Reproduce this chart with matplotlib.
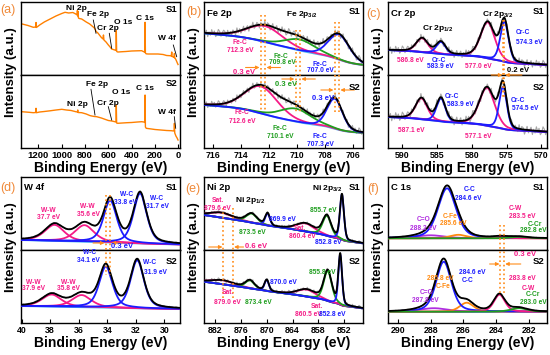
import numpy as np
import matplotlib.pyplot as plt
from matplotlib.transforms import blended_transform_factory as blend

plt.rcParams['font.family'] = ['Liberation Sans', 'DejaVu Sans']
plt.rcParams['font.weight'] = 'bold'
plt.rcParams['mathtext.fontset'] = 'custom'
plt.rcParams['mathtext.rm'] = 'Liberation Sans:bold'
plt.rcParams['mathtext.bf'] = 'Liberation Sans:bold'

W, H = 550, 355
PINK = '#f51a86'
BLUE = '#1c1cff'
GREEN = '#1f9e1f'
BGC = '#4cb6f2'
ORANGE = '#ff8c1a'
SURV = '#ff8000'
PURPLE = '#b02ee0'
CFE = '#ff8a10'
GREY = '#a6a6a6'

# ---------------- data ----------------
# (a) survey spectra: binding energy (eV) and intensity
surv_e1 = [1340, 1290, 1244, 1224, 1221, 1218, 1190, 1150, 1100, 1050, 1000, 972, 940, 905,
           880, 868, 866, 863, 860, 857, 850, 829, 790, 760, 743, 720, 705, 690, 660, 646,
           642, 638, 620, 600, 585, 572, 545, 534, 532, 529, 525, 517, 480, 450, 400, 350,
           314, 295, 287, 285, 282, 276, 260, 220, 174, 130, 100, 70, 60, 56, 53, 40, 36,
           33, 30, 25, 15, 8, 2]
surv_h1 = [51, 49.5, 47.7, 48, 52.5, 47.5, 50, 53, 56, 59, 61.5, 62.7, 62, 62.5,
           61, 60, 64.5, 59, 63.5, 57, 56.5, 56, 53, 51, 49.3, 47, 43.5, 42, 37.5, 36,
           40, 35, 33, 30, 28, 26, 25, 24.5, 44.3, 24, 23.2, 23, 23.3, 23.5, 24, 24.2,
           24.3, 23.2, 22.8, 52.7, 22, 21.2, 21, 21, 21, 20.5, 19.5, 19.3, 19, 23, 18.5, 18, 17.5,
           21.5, 16.8, 16.5, 14, 12, 10.5]
surv_e2 = [1345, 1290, 1244, 1224, 1221, 1218, 1190, 1150, 1100, 1050, 1000, 960, 920, 880,
           866, 863, 860, 829, 790, 760, 743, 720, 700, 660, 629, 600, 570, 545, 534, 532,
           529, 520, 480, 440, 400, 350, 314, 295, 287, 285, 282, 275, 230, 200, 150, 100,
           60, 40, 35, 33, 30, 20, 10, 2]
surv_h2 = [36.3, 35.8, 35.3, 35.5, 39.7, 35.3, 36, 36.5, 37.2, 38, 38.7, 38, 37.5, 36.3,
           36, 38, 35.5, 35.3, 34, 32.5, 32, 31.5, 31.3, 30, 28.7, 27.5, 27, 26.3, 26, 43,
           25, 24.7, 25, 25.3, 25.5, 26, 26.3, 26, 25.5, 53, 21, 19.7, 19, 18.5, 18, 17.5,
           17.3, 17, 18, 24.7, 15, 12, 10, 8]

# (b) Fe 2p fitted components (center eV, height, FWHM eV)
fe_c1 = [712.3, 709.8, 707.0]
fe_h1 = [16, 11, 25]
fe_w1 = [3.0, 2.6, 1.8]
fe_c2 = [712.6, 710.1, 707.3]
fe_h2 = [27, 13, 30]
fe_w2 = [2.8, 2.6, 1.3]
fe_bg1 = (41.7, 10)
fe_bg2 = (43, 15)

# (c) Cr 2p
cr_c1 = [587.1, 584.4, 577.7, 575.3]
cr_h1 = [14, 12, 36, 40]
cr_w1 = [2.0, 1.6, 2.4, 1.4]
cr_c2 = [587.2, 584.4, 577.8, 575.5]
cr_h2 = [21, 23, 38, 42]
cr_w2 = [2.0, 1.5, 2.6, 1.3]
cr_bg1 = (25, 10)
cr_bg2 = (31, 16)

# (d) W 4f
w_c1 = [37.7, 35.6, 33.8, 31.7]
w_h1 = [16, 16.5, 42, 50]
w_w1 = [1.6, 1.6, 1.1, 1.1]
w_c2 = [37.9, 35.8, 34.1, 31.9]
w_h2 = [12, 12, 41, 48]
w_w2 = [1.6, 1.6, 1.1, 1.1]
w_bg1 = (10, 5.5)
w_bg2 = (17, 14)

# (e) Ni 2p
ni_c1 = [880.5, 873.5, 869.8, 861.0, 856.0, 852.5]
ni_h1 = [5, 9, 12, 8, 20, 45]
ni_w1 = [6, 3, 1.3, 5, 2.3, 1.1]
ni_c2 = [880.2, 873.9, 870.0, 860.7, 855.8, 852.9]
ni_h2 = [4, 8, 11, 7, 30, 50]
ni_w2 = [6, 2.5, 1.2, 5, 2.2, 1.0]
ni_bg1 = (35, 6.7)
ni_bg2 = (41.3, 14.7)

# (f) C 1s
c_c1 = [288.0, 286.3, 287.0, 283.7, 282.6]
c_h1 = [3, 3.5, 50, 1.5, 1.5]
c_w1 = [2.0, 1.2, 1.3, 1.0, 1.2]
c_c2 = [287.8, 285.8, 287.2, 283.8, 282.6]
c_h2 = [3.5, 9, 50, 17, 3.5]
c_w2 = [2.0, 1.0, 1.1, 0.8, 1.2]
c_bg1 = (11.7, 11.7)
c_bg2 = (11.3, 11.3)

# fixed hand-typed scatter used for the raw (grey) traces
NOISE = [0.2, -0.7, 0.5, 1.0, -0.3, -0.8, 0.6, -0.1, 0.9, -0.5, 0.3, -0.9, 0.7, 0.1,
         -0.6, 0.8, -0.2, -1.0, 0.4, 0.6, -0.4, 0.9, -0.7, 0.0, 0.5, -0.8, 0.3, 0.7,
         -0.3, -0.6, 1.0, -0.2, 0.4, -0.9, 0.6, 0.2, -0.5, 0.8, -0.1, -0.7, 0.5, -0.4,
         0.9, -0.8, 0.1, 0.6, -0.6, 0.3, -0.2, 0.7, -0.9, 0.4, 0.8]

fig = plt.figure(figsize=(5.5, 3.55), dpi=100)


def fy(py):
    return 1 - py / H


def panel(l, t, xlim, ticks, tfs=6.3):
    axs = []
    for k in range(2):
        ax = fig.add_axes([l / W, fy(t + 73 * (k + 1)), 159 / W, 73 / H])
        ax.set_xlim(*xlim)
        ax.set_ylim(0, 73)
        ax.set_yticks([])
        for s in ax.spines.values():
            s.set_linewidth(1.0)
        axs.append(ax)
    axs[0].set_xticks([])
    axs[1].set_xticks(ticks)
    axs[1].tick_params(axis='x', direction='in', length=3, width=0.8, labelsize=tfs, pad=2)
    axs[1].set_xlabel('Binding Energy (eV)', fontsize=10, fontweight='bold', labelpad=1)
    fig.text((l - 10) / W, fy(t + 70), 'Intensity (a.u.)', rotation=90, fontsize=9.5,
             fontweight='bold', ha='center', va='center')
    return axs


def pv(x, c, a, w, eta):
    r = ((x - c) / w) ** 2
    return a * (eta / (1 + 4 * r) + (1 - eta) * np.exp(-4 * np.log(2) * r))


def spectrum(ax, xlim, centers, heights, fwhms, colors, bg_ends, k, eta, noise):
    x = np.linspace(min(xlim), max(xlim), 600)
    comps = [pv(x, c, a, w, eta) for c, a, w in zip(centers, heights, fwhms)]
    tot = np.sum(comps, axis=0)
    cum = np.cumsum(tot) / np.sum(tot)
    lin = (x - x[0]) / (x[-1] - x[0])
    bg = bg_ends[1] + (bg_ends[0] - bg_ends[1]) * (k * cum + (1 - k) * lin)
    env = bg + tot
    xr = x[::5]
    ax.plot(xr, env[::5] + noise * np.resize(NOISE, len(xr)), color=GREY, lw=0.8, zorder=1)
    ax.plot(x, bg, color=BGC, lw=1.4, zorder=2)
    for comp, col in zip(comps, colors):
        ax.plot(x, bg + comp, color=col, lw=1.3, zorder=3)
    ax.plot(x, env, color='k', lw=1.3, zorder=4)


def lab(px, py, s, c='k', fs=4.8, ha='center'):
    fig.text(px / W, fy(py), s, color=c, fontsize=fs, ha=ha, va='center', fontweight='bold')


def vmark(ax, xs, y0, y1):
    tr = blend(ax.transData, fig.transFigure)
    for xv in xs:
        ax.plot([xv, xv], [fy(y0), fy(y1)], transform=tr, color=ORANGE, ls=':', lw=1.2,
                clip_on=False, zorder=6)


def shift_arrow(ax, x0, x1, py):
    tr = blend(ax.transData, fig.transFigure)
    ax.annotate('', xy=(x1, fy(py)), xytext=(x0, fy(py)), xycoords=tr, textcoords=tr,
                annotation_clip=False,
                arrowprops=dict(arrowstyle='-|>', color=ORANGE, lw=0.8, mutation_scale=5,
                                shrinkA=0, shrinkB=0))


def leader(p0, p1):
    fig.add_artist(plt.Line2D([p0[0] / W, p1[0] / W], [fy(p0[1]), fy(p1[1])], color='k', lw=0.6))


def tag(l, t, head, plabel, plx, ply):
    lab(l + 3, t + 11, head, fs=6.8, ha='left')
    lab(l + 156, t + 10, 'S1', fs=6.8, ha='right')
    lab(l + 156, t + 85, 'S2', fs=6.8, ha='right')
    fig.text(plx / W, fy(ply), plabel, color='#f08a3a', fontsize=9, fontweight='normal',
             ha='center', va='center')


# ---------------- (a) survey ----------------
a1, a2 = panel(21, 2, (1350, -15), [1200, 1000, 800, 600, 400, 200, 0], tfs=6.8)
a1.plot(surv_e1, surv_h1, color=SURV, lw=1.0)
a2.plot(surv_e2, surv_h2, color=SURV, lw=1.0)
lab(172, 10, 'S1', fs=6.8)
lab(172, 84, 'S2', fs=6.8)
fig.text(7.5 / W, fy(10), '(a)', color='#f08a3a', fontsize=9, ha='center', va='center',
         fontweight='normal')
for s, px, py in [('Ni 2p', 76, 8), ('Fe 2p', 98, 15), ('Cr 2p', 108, 29), ('O 1s', 123, 23),
                  ('C 1s', 145, 19), ('W 4f', 167, 39), ('Fe 2p', 97, 84), ('Ni 2p', 77, 104),
                  ('Cr 2p', 108, 103), ('O 1s', 121, 93), ('C 1s', 145, 89), ('W 4f', 167, 113)]:
    lab(px, py, s, fs=6)
leader((93.3, 20), (96, 33.3))
leader((109.3, 33.3), (111.7, 48.3))
leader((173.3, 45), (176.7, 56.7))
leader((91, 89.3), (95, 115))
leader((108.3, 106.7), (111.7, 120))
leader((174.3, 116.7), (175.7, 128.3))

# ---------------- (b) Fe 2p ----------------
b1, b2 = panel(204, 2, (716.68, 705.28), [716, 714, 712, 710, 708, 706])
fe_col = [PINK, GREEN, BLUE]
spectrum(b1, (716.68, 705.28), fe_c1, fe_h1, fe_w1, fe_col, fe_bg1, 0.6, 0.2, 4)
spectrum(b2, (716.68, 705.28), fe_c2, fe_h2, fe_w2, fe_col, fe_bg2, 0.6, 0.2, 3.5)
tag(204, 2, 'Fe 2p', '(b)', 193.5, 12.5)
lab(302, 15, r'Fe 2p$_{3/2}$', fs=6)
vmark(b2, [fe_c2[0], fe_c1[0]], 15, 112)
vmark(b2, [fe_c2[1], fe_c1[1]], 30, 112)
vmark(b2, [fe_c2[2], fe_c1[2]], 22, 113)
shift_arrow(b2, 713.7, 712.7, 67.5)
shift_arrow(b2, 711.2, 712.2, 67.5)
shift_arrow(b2, 711.1, 710.2, 79)
shift_arrow(b2, 708.7, 709.7, 79)
shift_arrow(b2, 708.3, 707.4, 90)
shift_arrow(b2, 705.9, 706.9, 90)
for px, py, s, c in [(240, 42, 'Fe-C', PINK), (240, 50.5, '712.3 eV', PINK),
                     (281, 57, 'Fe-C', GREEN), (282, 63, '709.8 eV', GREEN),
                     (320, 64, 'Fe-C', BLUE), (320, 71, '707.0 eV', BLUE),
                     (244, 72, '0.3 eV', PINK), (286, 84, '0.3 eV', GREEN), (323, 98, '0.3 eV', BLUE),
                     (242, 113, 'Fe-C', PINK), (242, 121.5, '712.6 eV', PINK),
                     (280, 128.5, 'Fe-C', GREEN), (280, 136.5, '710.1 eV', GREEN),
                     (320, 137, 'Fe-C', BLUE), (320, 145, '707.3 eV', BLUE)]:
    lab(px, py, s, c, fs=5.5 if s == '0.3 eV' else 4.8)

# ---------------- (c) Cr 2p ----------------
c_lim = (592.0, 569.2)
cA, cB = panel(388, 2, c_lim, [590, 585, 580, 575, 570])
cr_col = [PINK, BLUE, PINK, BLUE]
spectrum(cA, c_lim, cr_c1, cr_h1, cr_w1, cr_col, cr_bg1, 0.5, 0.3, 4)
spectrum(cB, c_lim, cr_c2, cr_h2, cr_w2, cr_col, cr_bg2, 0.5, 0.3, 4.5)
tag(388, 2, 'Cr 2p', '(c)', 373.5, 13.5)
lab(438, 28, r'Cr 2p$_{1/2}$', fs=6)
lab(498, 14, r'Cr 2p$_{3/2}$', fs=6)
vmark(cB, [cr_c2[3], cr_c1[3]], 20, 98)
shift_arrow(cB, 577.2, 575.6, 75)
shift_arrow(cB, 572.8, 575.2, 75)
for px, py, s, c in [(523, 33, 'Cr-C', BLUE), (529, 42, '574.3 eV', BLUE),
                     (410, 61, '586.8 eV', PINK), (439, 61, 'Cr-C', BLUE), (440, 67, '583.9 eV', BLUE),
                     (478, 67, '577.0 eV', PINK),
                     (452, 97, 'Cr-C', BLUE), (460, 104, '583.9 eV', BLUE),
                     (518, 100, 'Cr-C', BLUE), (525, 108, '574.5 eV', BLUE),
                     (411, 131, '587.1 eV', PINK), (478, 137, '577.1 eV', PINK)]:
    lab(px, py, s, c)
lab(518, 70, '0.2 eV', 'k', fs=5.5)

# ---------------- (d) W 4f ----------------
d_lim = (40.05, 28.9)
d1, d2 = panel(21, 177, d_lim, [40, 38, 36, 34, 32, 30])
w_col = [PINK, PINK, BLUE, BLUE]
spectrum(d1, d_lim, w_c1, w_h1, w_w1, w_col, w_bg1, 0.2, 0.5, 0.8)
spectrum(d2, d_lim, w_c2, w_h2, w_w2, w_col, w_bg2, 0.2, 0.5, 0.8)
tag(21, 177, 'W 4f', '(d)', 7.5, 187.5)
vmark(d2, [w_c2[2], w_c1[2]], 195, 275)
shift_arrow(d2, 35.0, 34.2, 243)
shift_arrow(d2, 33.0, 33.7, 243)
for px, py, s, c in [(48, 210, 'W-W', PINK), (48, 218, '37.7 eV', PINK),
                     (87, 207, 'W-W', PINK), (88, 214, '35.6 eV', PINK),
                     (127, 194, 'W-C', BLUE), (125, 202, '33.8 eV', BLUE),
                     (157, 198, 'W-C', BLUE), (157, 206, '31.7 eV', BLUE),
                     (90, 253, 'W-C', BLUE), (88, 260, '34.1 eV', BLUE),
                     (150, 263, 'W-C', BLUE), (155, 272, '31.9 eV', BLUE),
                     (33, 282, 'W-W', PINK), (33, 289, '37.9 eV', PINK),
                     (68, 282, 'W-W', PINK), (68, 289, '35.8 eV', PINK)]:
    lab(px, py, s, c)
lab(122, 247, '0.3 eV', BLUE, fs=5.5)

# ---------------- (e) Ni 2p ----------------
e_lim = (884.6, 847.6)
e1, e2 = panel(204, 177, e_lim, [882, 876, 870, 864, 858, 852])
ni_col = [PINK, GREEN, BLUE, PINK, GREEN, BLUE]
spectrum(e1, e_lim, ni_c1, ni_h1, ni_w1, ni_col, ni_bg1, 0.3, 0.3, 1.5)
spectrum(e2, e_lim, ni_c2, ni_h2, ni_w2, ni_col, ni_bg2, 0.3, 0.3, 2)
tag(204, 177, 'Ni 2p', '(e)', 192.5, 189)
lab(327, 188, r'Ni 2p$_{3/2}$', fs=6)
lab(250, 200, r'Ni 2p$_{1/2}$', fs=6)
vmark(e2, [880.1, 877.8], 208, 298)
shift_arrow(e2, 883.5, 880.3, 247)
shift_arrow(e2, 875.4, 877.6, 247)
lab(245, 246, '0.6 eV', PINK, fs=5.5, ha='left')
for px, py, s, c in [(218, 200, 'Sat.', PINK), (217, 208, '879.6 eV', PINK),
                     (282, 220, '869.9 eV', BLUE), (323, 210, '855.7 eV', GREEN),
                     (252, 232, '873.5 eV', GREEN), (300, 228, 'Sat.', PINK),
                     (302, 237, '860.4 eV', PINK), (328, 242, '852.8 eV', BLUE),
                     (283, 282, '870.0 eV', BLUE), (322, 273, '855.8 eV', GREEN),
                     (228, 293, 'Sat.', PINK), (227, 302, '879.0 eV', PINK),
                     (258, 302, '873.4 eV', GREEN), (317, 307, 'Sat.', PINK),
                     (308, 314, '860.5 eV', PINK), (332, 314, '852.8 eV', BLUE)]:
    lab(px, py, s, c)

# ---------------- (f) C 1s ----------------
f_lim = (290.6, 280.9)
f1, f2 = panel(388, 177, f_lim, [290, 288, 286, 284, 282])
c_col = [PURPLE, CFE, BLUE, PINK, GREEN]
spectrum(f1, f_lim, c_c1, c_h1, c_w1, c_col, c_bg1, 0.0, 0.4, 0.5)
spectrum(f2, f_lim, c_c2, c_h2, c_w2, c_col, c_bg2, 0.0, 0.4, 0.5)
tag(388, 177, 'C 1s', '(f)', 373, 189)
vmark(f2, [283.75, 283.5], 225, 295)
shift_arrow(f2, 284.4, 283.8, 264)
shift_arrow(f2, 282.5, 283.45, 264)
lab(525, 255, '0.3 eV', PINK, fs=5.5)
for px, py, s, c in [(470, 190, 'C-C', BLUE), (468, 198, '284.6 eV', BLUE),
                     (515, 208, 'C-W', PINK), (522, 216, '283.5 eV', PINK),
                     (535, 224, 'C-Cr', GREEN), (533, 231, '282.8 eV', GREEN),
                     (450, 217, 'C-Fe', CFE), (453, 223, '285.6 eV', CFE),
                     (424, 220, 'C=O', PURPLE), (423, 228, '288.2 eV', PURPLE),
                     (472, 272, '284.6 eV', BLUE), (468, 280, 'C-C', BLUE),
                     (440, 278, '285.8 eV', CFE), (443, 287, 'C-Fe', CFE),
                     (522, 278, '283.8 eV', PINK), (528, 288, 'C-W', PINK),
                     (533, 295, 'C-Cr', GREEN), (533, 302, '283.0 eV', GREEN),
                     (427, 293, 'C=O', PURPLE), (425, 301, '287.8 eV', PURPLE)]:
    lab(px, py, s, c)

fig.savefig('out.png', dpi=100)
